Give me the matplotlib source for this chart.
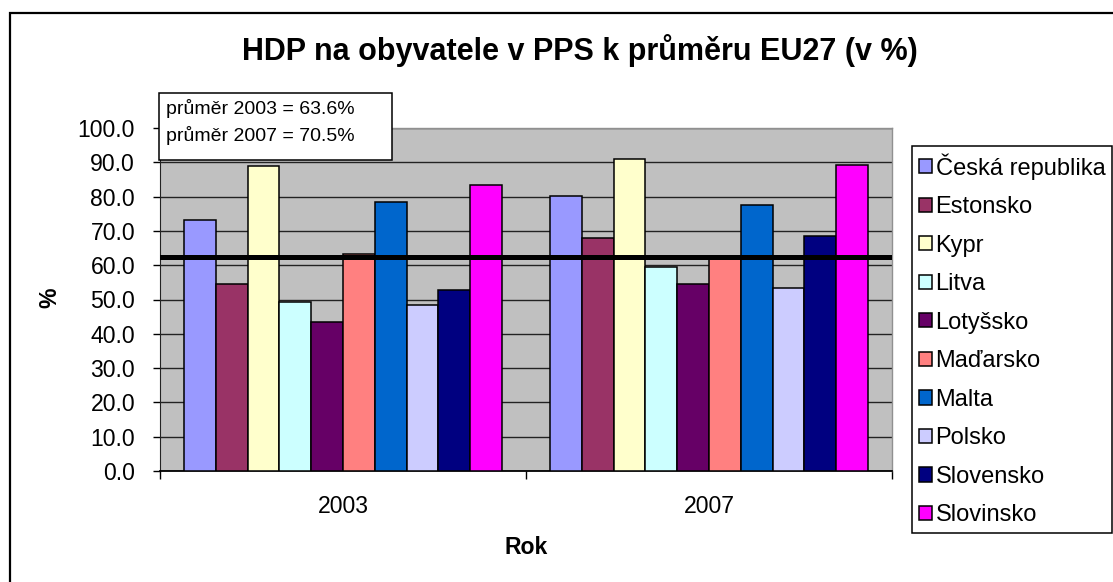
import matplotlib
matplotlib.use("Agg")
import matplotlib.pyplot as plt
from matplotlib.patches import Rectangle
import numpy as np

plt.rcParams['font.family'] = ['Liberation Sans', 'DejaVu Sans']

years = ["2003", "2007"]
countries = ["Česká republika", "Estonsko", "Kypr", "Litva", "Lotyšsko",
             "Maďarsko", "Malta", "Polsko", "Slovensko", "Slovinsko"]
values_2003 = [73.3, 54.5, 88.8, 49.2, 43.3, 63.2, 78.5, 48.5, 52.9, 83.3]
values_2007 = [80.3, 67.9, 91.0, 59.4, 54.6, 62.6, 77.6, 53.4, 68.6, 89.3]
reference_line = 62.4
yticks = [0, 10, 20, 30, 40, 50, 60, 70, 80, 90, 100]
note_lines = ["průměr 2003 = 63.6%", "průměr 2007 = 70.5%"]
colors = ["#9999FF", "#993366", "#FFFFCC", "#CCFFFF", "#660066",
          "#FF8080", "#0066CC", "#CCCCFF", "#000080", "#FF00FF"]

W, H = 1113, 582
fig = plt.figure(figsize=(W / 100, H / 100), dpi=100)
fig.patch.set_facecolor("white")

def fx(px):
    return px / W

def fy(py):
    return 1 - py / H

ax = fig.add_axes([fx(160), fy(471), fx(892) - fx(160), fy(128) - fy(471)])
ax.set_facecolor("#C0C0C0")

FS = 16.6
n = len(countries)
w = 1 / 11.5
x = np.arange(len(years))
handles = []
for i, c in enumerate(countries):
    vals = [values_2003[i], values_2007[i]]
    b = ax.bar(x + (i - (n - 1) / 2) * w, vals, width=w, color=colors[i],
               edgecolor="black", linewidth=1.1, label=c, zorder=3)
    handles.append(b)

ax.axhline(reference_line, color="black", linewidth=3.6, zorder=5)

ax.set_xlim(-0.5, 1.5)
ax.set_ylim(0, 100)
ax.set_yticks(yticks)
ax.set_yticklabels([f"{v:.1f}" for v in yticks], fontsize=FS)
ax.tick_params(axis="y", direction="out", length=5, width=1, pad=13)
ax.set_xticks(x)
ax.set_xticklabels(years, fontsize=FS)
ax.set_xticks([-0.5, 0.5, 1.5], minor=True)
ax.tick_params(axis="x", which="major", length=0, pad=17)
ax.tick_params(axis="x", which="minor", direction="out", length=6, width=1)

ax.set_axisbelow(True)
ax.yaxis.grid(True, color="#222222", linewidth=1)
for s in ["top", "right"]:
    ax.spines[s].set_color("#909090")
    ax.spines[s].set_linewidth(1)
ax.spines["left"].set_color("#222222")
ax.spines["bottom"].set_color("black")
ax.spines["bottom"].set_linewidth(1.3)

ax.set_xlabel("Rok", fontsize=FS, fontweight="bold")
ax.xaxis.label.set_va("center")
ax.xaxis.set_label_coords(0.5, (471 - 547) / 343)
ax.set_ylabel("%", fontsize=FS, fontweight="bold")
ax.yaxis.label.set_va("center")
ax.yaxis.set_label_coords((50 - 160) / 732, (471 - 298) / 343)

fig.text(fx(580), fy(60), "HDP na obyvatele v PPS k průměru EU27 (v %)",
         fontsize=22, fontweight="bold", ha="center", va="baseline")

# note box
fig.patches.append(Rectangle((fx(159), fy(160)), fx(392) - fx(159), fy(93) - fy(160),
                             transform=fig.transFigure, facecolor="white",
                             edgecolor="black", linewidth=1.1, zorder=4))
fig.text(fx(166), fy(114), note_lines[0], fontsize=14, va="baseline", zorder=6)
fig.text(fx(166), fy(140.7), note_lines[1], fontsize=14, va="baseline", zorder=6)

# outer frame
fig.patches.append(Rectangle((fx(10), -0.2), 2, fy(13) + 0.2,
                             transform=fig.transFigure, fill=False,
                             edgecolor="black", linewidth=1.6, zorder=1))

leg = fig.legend(handles=handles, labels=countries, loc="upper left",
                 bbox_to_anchor=(fx(912), fy(146)), borderaxespad=0,
                 fontsize=17, frameon=True, fancybox=False, framealpha=1,
                 edgecolor="black", borderpad=0.3, labelspacing=0.7,
                 handlelength=0.55, handleheight=0.55, handletextpad=0.15)
leg.get_frame().set_linewidth(1.1)

fig.savefig("out.png", dpi=100)
